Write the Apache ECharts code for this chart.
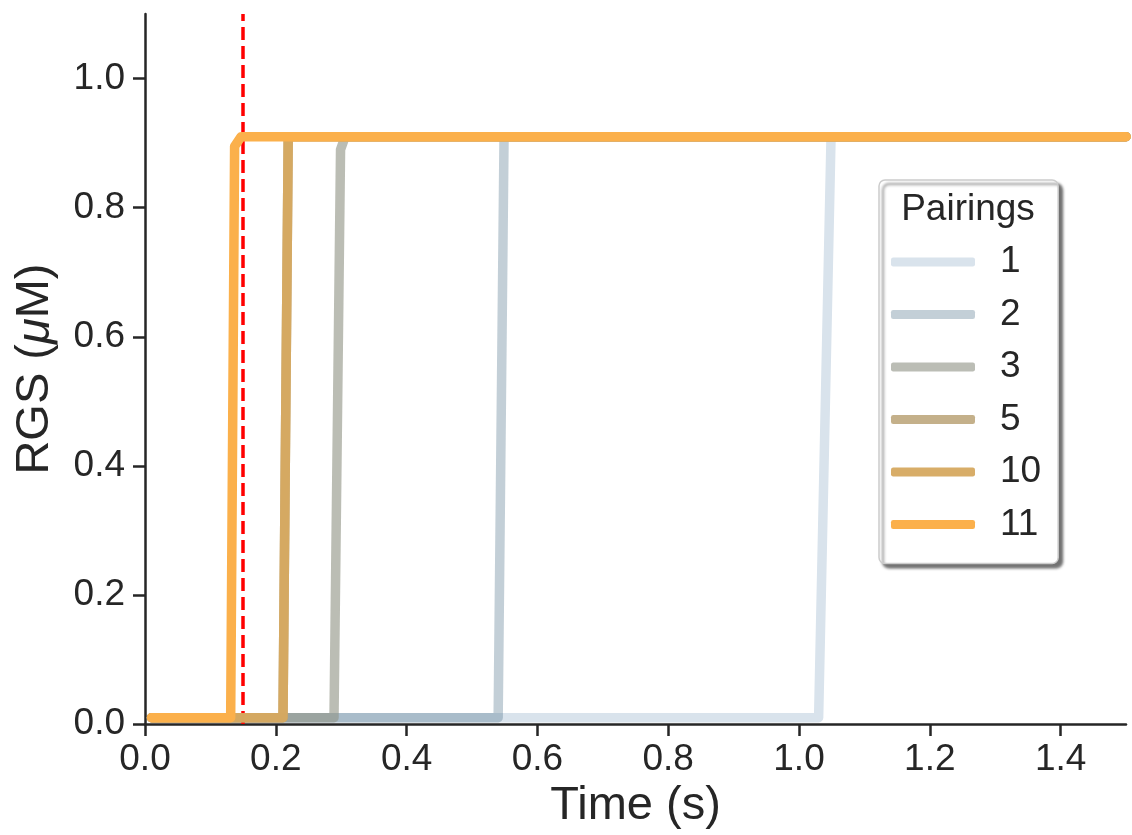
<!DOCTYPE html>
<html>
<head>
<meta charset="utf-8">
<script src="https://cdn.jsdelivr.net/npm/echarts@6/dist/echarts.min.js"></script>
<style>
html,body{margin:0;padding:0;background:#fff;}
#chart{width:1132px;height:835px;}
</style>
</head>
<body>
<div id="chart"></div>
<script>
// ---- data ----
const pairingNames = ['1', '2', '3', '5', '10', '11'];
const curve1  = [[0.01, 0.01], [1.030, 0.01], [1.049, 0.91], [1.5, 0.91]];
const curve2  = [[0.01, 0.01], [0.540, 0.01], [0.549, 0.91], [1.5, 0.91]];
const curve3  = [[0.01, 0.01], [0.289, 0.01], [0.299, 0.89], [0.306, 0.91], [1.5, 0.91]];
const curve5  = [[0.01, 0.01], [0.211, 0.01], [0.219, 0.91], [1.5, 0.91]];
const curve10 = [[0.01, 0.01], [0.211, 0.01], [0.219, 0.91], [1.5, 0.91]];
const curve11 = [[0.01, 0.01], [0.131, 0.01], [0.137, 0.895], [0.147, 0.91], [1.5, 0.91]];
const curves = [curve1, curve2, curve3, curve5, curve10, curve11];
const markerTime = 0.15;
const xTicks = [0, 0.2, 0.4, 0.6, 0.8, 1.0, 1.2, 1.4];
const yTicks = [0, 0.2, 0.4, 0.6, 0.8, 1.0];

// ---- styles ----
const lineRGB = [[217,227,236],[67,105,130],[147,150,137],[181,156,109],[214,169,96],[251,176,75]];
const lineAlpha = [1, 0.32, 0.63, 0.8, 0.95, 1];
const FONT = 'Liberation Sans, Arial, sans-serif';
const INK = '#262626';
function rgba(c, a){ return 'rgba(' + c[0] + ',' + c[1] + ',' + c[2] + ',' + a + ')'; }
function onWhite(c, a){ return 'rgb(' + c.map(v => Math.round(a * v + (1 - a) * 255)).join(',') + ')'; }

const series = pairingNames.map((name, i) => ({
  name: name,
  type: 'line',
  data: curves[i],
  showSymbol: false,
  symbol: 'none',
  clip: true,
  z: 2 + i,
  lineStyle: { color: rgba(lineRGB[i], lineAlpha[i]), width: 9.5, cap: 'round', join: 'round' },
  itemStyle: { color: onWhite(lineRGB[i], lineAlpha[i]) }
}));
series.push({
  type: 'line',
  data: [],
  z: 20,
  markLine: {
    silent: true,
    symbol: 'none',
    label: { show: false },
    lineStyle: { color: '#ff0000', width: 3.5, type: [13, 6] },
    data: [{ xAxis: markerTime }]
  }
});

const chart = echarts.init(document.getElementById('chart'), null, { renderer: 'canvas' });
chart.setOption({
  animation: false,
  backgroundColor: '#ffffff',
  grid: { left: 145, right: 6, top: 14, bottom: 108, containLabel: false },
  xAxis: {
    type: 'value', min: 0, max: 1.5,
    name: 'Time (s)', nameLocation: 'middle', nameGap: 54,
    nameTextStyle: { fontSize: 47, color: INK, fontFamily: FONT },
    axisLine: { onZero: false, lineStyle: { color: INK, width: 2.5 } },
    axisTick: { show: true, length: 12, lineStyle: { color: INK, width: 2.5 }, customValues: xTicks },
    axisLabel: { customValues: xTicks, formatter: v => v.toFixed(1), fontSize: 37, color: INK, fontFamily: FONT, margin: 17 },
    splitLine: { show: false }
  },
  yAxis: {
    type: 'value', min: 0, max: 1.1,
    name: 'RGS ({i|μ}M)', nameLocation: 'middle', nameGap: 86, nameRotate: 90,
    nameTextStyle: { fontSize: 47, color: INK, fontFamily: FONT,
      rich: { i: { fontSize: 47, fontStyle: 'italic', color: INK, fontFamily: FONT } } },
    axisLine: { onZero: false, lineStyle: { color: INK, width: 2.5 } },
    axisTick: { show: true, length: 12, lineStyle: { color: INK, width: 2.5 }, customValues: yTicks },
    axisLabel: { customValues: yTicks, formatter: v => v.toFixed(1), fontSize: 37, color: INK, fontFamily: FONT, margin: 20 },
    splitLine: { show: false }
  },
  legend: {
    orient: 'vertical',
    left: 879, top: 180,
    padding: [62, 17, 19, 12],
    itemWidth: 84, itemHeight: 9, itemGap: 12.5,
    icon: 'roundRect',
    align: 'left',
    backgroundColor: '#ffffff',
    borderColor: '#cccccc', borderWidth: 1.5, borderRadius: 6,
    shadowColor: 'rgba(0,0,0,0.55)', shadowBlur: 3, shadowOffsetX: 4, shadowOffsetY: 4,
    textStyle: { fontSize: 37, lineHeight: 40, color: INK, fontFamily: FONT, padding: [0, 0, 0, 20] },
    data: pairingNames.map((n, i) => ({ name: n, itemStyle: { color: onWhite(lineRGB[i], lineAlpha[i]) } }))
  },
  graphic: [{
    type: 'text', x: 968, y: 210, z: 100,
    style: { text: 'Pairings', font: '37px ' + FONT, fill: INK, align: 'center', verticalAlign: 'middle', textAlign: 'center', textVerticalAlign: 'middle' }
  }],
  series: series
});
</script>
</body>
</html>
